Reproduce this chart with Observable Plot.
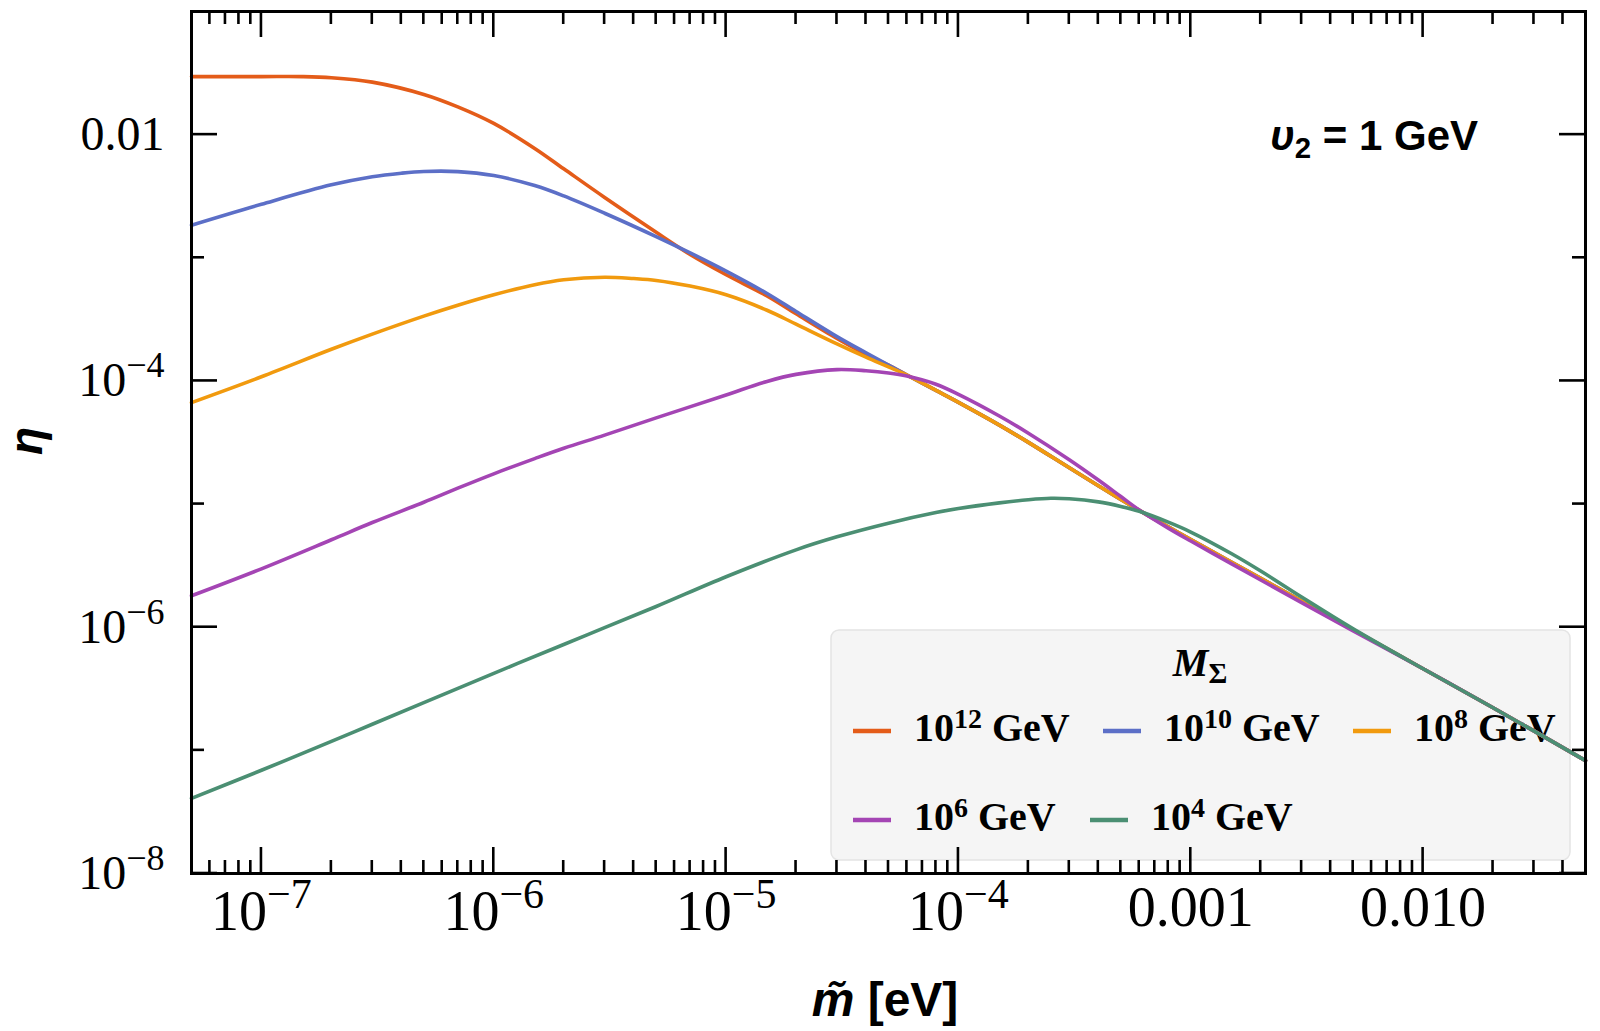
<!DOCTYPE html>
<html>
<head>
<meta charset="utf-8">
<script src="https://cdn.jsdelivr.net/npm/d3@7"></script>
<script src="https://cdn.jsdelivr.net/npm/@observablehq/plot@0.6"></script>
<style>
  html, body { margin: 0; padding: 0; background: #fff; }
  #chart { width: 1600px; height: 1031px; }
</style>
</head>
<body>
<div id="chart"></div>
<script>
// ---------- data (m̃ in eV, η) ----------
const seriesKeys   = ["1e12", "1e10", "1e8", "1e6", "1e4"];
const seriesBase   = ["10", "10", "10", "10", "10"];
const seriesExp    = ["12", "10", "8", "6", "4"];
const seriesColors = ["#e45c19", "#5c6fc7", "#f19a0e", "#a445b4", "#4b8f73"];

// shared large-m̃ branch onto which the curves merge
const common = [
  [5e-5, 1.343e-4], [6e-5, 1.117e-4], [8e-5, 8.38e-5], [1e-4, 6.70e-5],
  [1.5e-4, 4.38e-5], [2e-4, 3.17e-5], [3e-4, 1.97e-5], [4e-4, 1.41e-5],
  [5e-4, 1.089e-5], [6e-4, 8.89e-6], [8e-4, 6.53e-6], [1e-3, 5.16e-6],
  [1.5e-3, 3.37e-6], [2e-3, 2.49e-6], [3e-3, 1.63e-6], [5e-3, 9.53e-7],
  [1e-2, 4.60e-7], [2e-2, 2.22e-7], [5e-2, 8.26e-8]
];

const eta12 = [
  [5e-8, 2.96e-2], [1e-7, 2.96e-2], [1.5e-7, 2.96e-2], [2e-7, 2.90e-2], [3e-7, 2.67e-2],
  [5e-7, 2.12e-2], [7e-7, 1.68e-2], [1e-6, 1.233e-2], [1.5e-6, 7.73e-3], [2e-6, 5.28e-3],
  [3e-6, 3.09e-3], [5e-6, 1.61e-3], [7e-6, 1.064e-3], [1e-5, 7.28e-4], [1.5e-5, 4.90e-4],
  [2e-5, 3.51e-4], [3e-5, 2.21e-4], [4e-5, 1.64e-4]
];
const eta10 = [
  [5e-8, 1.84e-3], [1e-7, 2.72e-3], [2e-7, 3.91e-3], [3e-7, 4.55e-3], [4e-7, 4.86e-3],
  [5e-7, 5.02e-3], [7e-7, 5.01e-3], [1e-6, 4.65e-3], [1.5e-6, 3.86e-3], [2e-6, 3.18e-3],
  [3e-6, 2.30e-3], [5e-6, 1.486e-3], [7e-6, 1.096e-3], [1e-5, 7.8e-4], [1.5e-5, 5.13e-4],
  [2e-5, 3.66e-4], [3e-5, 2.29e-4], [4e-5, 1.69e-4]
];
const eta8 = [
  [5e-8, 6.67e-5], [1e-7, 1.081e-4], [2e-7, 1.807e-4], [3e-7, 2.40e-4], [5e-7, 3.36e-4],
  [7e-7, 4.12e-4], [1e-6, 5.01e-4], [1.5e-6, 6.05e-4], [2e-6, 6.64e-4], [3e-6, 6.95e-4],
  [4e-6, 6.78e-4], [5e-6, 6.55e-4], [7e-6, 5.89e-4], [1e-5, 5.01e-4], [1.5e-5, 3.75e-4],
  [2e-5, 2.89e-4], [3e-5, 2.00e-4], [4e-5, 1.56e-4], [5e-5, 1.30e-4]
];
const eta6 = [
  [5e-8, 1.80e-6], [1e-7, 2.98e-6], [2e-7, 5.13e-6], [3e-7, 7.08e-6], [5e-7, 1.035e-5],
  [7e-7, 1.346e-5], [1e-6, 1.76e-5], [1.5e-6, 2.34e-5], [2e-6, 2.84e-5], [3e-6, 3.63e-5],
  [5e-6, 5.01e-5], [1e-5, 7.69e-5],
  [1.5e-5, 9.91e-5], [2e-5, 1.13e-4], [3e-5, 1.236e-4], [4e-5, 1.21e-4], [5e-5, 1.161e-4],
  [6e-5, 1.096e-4], [8e-5, 9.40e-5], [1e-4, 7.78e-5], [1.5e-4, 5.19e-5], [2e-4, 3.76e-5],
  [3e-4, 2.29e-5], [4e-4, 1.567e-5], [5e-4, 1.151e-5], [6e-4, 8.95e-6], [8e-4, 6.38e-6],
  [1e-3, 5.01e-6], [1.5e-3, 3.27e-6], [2e-3, 2.42e-6], [3e-3, 1.585e-6], [5e-3, 9.33e-7]
];
const eta4 = [
  [5e-8, 4.07e-8], [1e-7, 6.89e-8], [2e-7, 1.183e-7], [3e-7, 1.63e-7], [5e-7, 2.44e-7],
  [1e-6, 4.22e-7], [2e-6, 7.24e-7], [3e-6, 9.93e-7], [5e-6, 1.472e-6], [1e-5, 2.57e-6],
  [2e-5, 4.25e-6], [3e-5, 5.42e-6], [5e-5, 7.0e-6], [8e-5, 8.53e-6], [1e-4, 9.2e-6],
  [1.5e-4, 1.023e-5], [2e-4, 1.084e-5], [2.5e-4, 1.114e-5], [3e-4, 1.104e-5], [4e-4, 1.042e-5],
  [5e-4, 9.57e-6], [6e-4, 8.73e-6], [8e-4, 7.13e-6], [1e-3, 5.93e-6], [1.5e-3, 3.95e-6],
  [2e-3, 2.86e-6], [3e-3, 1.758e-6], [5e-3, 9.7e-7]
];

// tick values and labels
const xMajorTicks = [1e-7, 1e-6, 1e-5, 1e-4, 1e-3, 1e-2];
const xTickLabels = ["10^−7", "10^−6", "10^−5", "10^−4", "0.001", "0.010"];
const yMajorTicks = [1e-8, 1e-6, 1e-4, 1e-2];
const yTickLabels = ["10^−8", "10^−6", "10^−4", "0.01"];
const yMinorTicks = [1e-7, 1e-5, 1e-3];

// ---------- assemble ----------
function withTail(own) {
  const last = own[own.length - 1][0];
  return own.concat(common.filter(d => d[0] > last * 1.0001));
}
const seriesPoints = [withTail(eta12), withTail(eta10), withTail(eta8), withTail(eta6), withTail(eta4)];
const rows = [];
seriesPoints.forEach((pts, i) => pts.forEach(([m, eta]) => rows.push({m, eta, key: seriesKeys[i]})));

const xFmt = new Map(xMajorTicks.map((v, i) => [v, xTickLabels[i]]));
const yFmt = new Map(yMajorTicks.map((v, i) => [v, yTickLabels[i]]));

const SERIF = "'Liberation Serif', 'Times New Roman', serif";
const SANS = "'Liberation Sans', Arial, sans-serif";

const chart = Plot.plot({
  width: 1600,
  height: 1031,
  marginLeft: 191,
  marginRight: 15,
  marginTop: 11,
  marginBottom: 158,
  style: {fontFamily: SERIF, background: "white", color: "black"},
  x: {type: "log", domain: [5e-8, 5e-2]},
  y: {type: "log", domain: [1e-8, 0.1]},
  color: {domain: seriesKeys, range: seriesColors},
  marks: [
    Plot.line(rows, {x: "m", y: "eta", z: "key", stroke: "key", strokeWidth: 3.6, curve: "catmull-rom"}),
    Plot.axisX(xMajorTicks, {anchor: "bottom", tickSize: 0, tickPadding: 13, fontSize: 56,
      fontFamily: SERIF, tickFormat: d => xFmt.get(d), label: null}),
    Plot.axisY(yMajorTicks, {anchor: "left", tickSize: 0, tickPadding: 27, fontSize: 48,
      fontFamily: SERIF, tickFormat: d => yFmt.get(d), label: null}),
    Plot.frame({stroke: "black", strokeWidth: 3})
  ]
});
document.getElementById("chart").appendChild(chart);

const svg = d3.select(chart);
const sx = chart.scale("x"), sy = chart.scale("y");
const [xL, xR] = sx.range;
const [yB, yT] = sy.range;

// superscripts in tick labels
function supify(sel, sizeFrac, raisePx, baseShift) {
  sel.each(function () {
    const t = this.textContent;
    if (!t.includes("^")) return;
    const [base, exp] = t.split("^");
    const el = d3.select(this);
    el.text(null);
    el.append("tspan").attr("dy", baseShift ? baseShift + "px" : null).text(base);
    el.append("tspan").attr("font-size", (sizeFrac * 100) + "%").attr("dy", (-raisePx) + "px").text(exp);
  });
}
supify(svg.selectAll('g[aria-label="x-axis tick label"] text'), 0.75, 22, 4);
supify(svg.selectAll('g[aria-label="y-axis tick label"] text'), 0.75, 19, 0);

// inward ticks on all four sides
const xMinorTicks = [];
for (let e = -8; e <= -2; e++) for (let k = 2; k <= 9; k++) {
  const v = k * Math.pow(10, e);
  if (v > 5e-8 * 1.001 && v < 5e-2 * 0.999) xMinorTicks.push(v);
}
const tg = svg.append("g").attr("stroke", "black").attr("stroke-width", 2.6);
function xt(v, len) {
  const x = sx.apply(v);
  tg.append("line").attr("x1", x).attr("x2", x).attr("y1", yB).attr("y2", yB - len);
  tg.append("line").attr("x1", x).attr("x2", x).attr("y1", yT).attr("y2", yT + len);
}
function yt(v, len) {
  const y = sy.apply(v);
  tg.append("line").attr("y1", y).attr("y2", y).attr("x1", xL).attr("x2", xL + len);
  tg.append("line").attr("y1", y).attr("y2", y).attr("x1", xR).attr("x2", xR - len);
}
xMajorTicks.forEach(v => xt(v, 26));
xMinorTicks.forEach(v => xt(v, 13));
yMajorTicks.forEach(v => yt(v, 26));
yMinorTicks.forEach(v => yt(v, 13));

// axis titles
svg.append("text")
  .attr("x", 885).attr("y", 1016)
  .attr("text-anchor", "middle")
  .attr("font-family", SANS).attr("font-weight", "bold").attr("font-size", 48)
  .call(t => {
    t.append("tspan").attr("font-style", "italic").text("m\u0303");
    t.append("tspan").text(" [eV]");
  });
svg.append("text")
  .attr("transform", "translate(42,441) rotate(-90)")
  .attr("text-anchor", "middle")
  .attr("font-family", SANS).attr("font-weight", "bold").attr("font-style", "italic").attr("font-size", 46)
  .text("η");

// annotation
svg.append("text")
  .attr("x", 1270).attr("y", 150)
  .attr("text-anchor", "start")
  .attr("font-family", SANS).attr("font-weight", "bold").attr("font-size", 42)
  .call(t => {
    t.append("tspan").attr("font-style", "italic").text("υ");
    t.append("tspan").attr("font-size", "70%").attr("dy", "8px").text("2");
    t.append("tspan").attr("dy", "-8px").text(" = 1 GeV");
  });

// legend (drawn beneath the curves)
const lg = svg.insert("g", 'g[aria-label="line"]')
  .attr("font-family", SERIF).attr("font-weight", "bold").attr("text-anchor", "start");
lg.append("rect").attr("x", 831).attr("y", 630).attr("width", 739).attr("height", 230)
  .attr("rx", 8).attr("fill", "#f5f5f5").attr("stroke", "#e4e4e4").attr("stroke-width", 1.5);
lg.append("text").attr("x", 1200).attr("y", 676).attr("text-anchor", "middle").attr("font-size", 40)
  .call(t => {
    t.append("tspan").attr("font-style", "italic").text("M");
    t.append("tspan").attr("font-size", "72%").attr("dy", "7px").text("Σ");
  });
const legendSlots = [[853, 741], [1103, 741], [1353, 741], [853, 830], [1090, 830]];
seriesKeys.forEach((k, i) => {
  const [lx, ly] = legendSlots[i];
  lg.append("line").attr("x1", lx).attr("x2", lx + 38).attr("y1", ly - 10).attr("y2", ly - 10)
    .attr("stroke", seriesColors[i]).attr("stroke-width", 4.5);
  lg.append("text").attr("x", lx + 61).attr("y", ly).attr("font-size", 40).attr("text-anchor", "start")
    .call(t => {
      t.append("tspan").text(seriesBase[i]);
      t.append("tspan").attr("font-size", "70%").attr("dy", "-13px").text(seriesExp[i]);
      t.append("tspan").attr("dy", "13px").text(" GeV");
    });
});
</script>
</body>
</html>
